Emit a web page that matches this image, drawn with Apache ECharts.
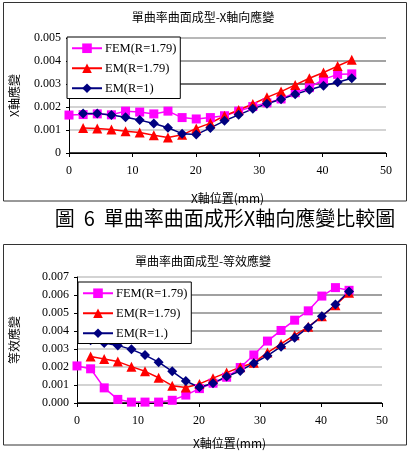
<!DOCTYPE html>
<html>
<head>
<meta charset="utf-8">
<script src="https://cdn.jsdelivr.net/npm/echarts@6/dist/echarts.min.js"></script>
<style>
  html, body { margin: 0; padding: 0; background: #fff; }
  #main { width: 412px; height: 456px; }
</style>
</head>
<body>
<div id="main"></div>
<script>
// x 位置 (mm)
const xPos = [0, 2.23, 4.46, 6.69, 8.92, 11.15, 13.38, 15.61, 17.84, 20.07, 22.3,
  24.53, 26.76, 28.99, 31.22, 33.45, 35.68, 37.91, 40.14, 42.37, 44.6]

// 圖上：X軸向應變
const femX = [0.00165, 0.00167, 0.00170, 0.00166, 0.00182, 0.00178, 0.00170, 0.00182, 0.00154, 0.00148, 0.00154,
  0.00162, 0.00182, 0.00202, 0.00218, 0.00235, 0.00262, 0.00284, 0.00320, 0.00342, 0.00344]
const em179X = [null, 0.00109, 0.00106, 0.00102, 0.00095, 0.00089, 0.00077, 0.00067, 0.00079, 0.00107, 0.00130,
  0.00162, 0.00187, 0.00213, 0.00242, 0.00267, 0.00296, 0.00325, 0.00350, 0.00378, 0.00405]
const em1X = [null, 0.00172, 0.00172, 0.00165, 0.00155, 0.00143, 0.00128, 0.00110, 0.00084, 0.00080, 0.00109,
  0.00140, 0.00166, 0.00192, 0.00214, 0.00234, 0.00255, 0.00275, 0.00292, 0.00308, 0.00325]

// 圖下：等效應變
const femEq = [0.00206, 0.00190, 0.00084, 0.00020, 0.00005, 0.00005, 0.00005, 0.00015, 0.00044, 0.00080, 0.00110,
  0.00143, 0.00197, 0.00267, 0.00344, 0.00403, 0.00460, 0.00512, 0.00594, 0.00641, 0.00626]
const em179Eq = [null, 0.00258, 0.00245, 0.00230, 0.00202, 0.00176, 0.00140, 0.00096, 0.00086, 0.00106, 0.00138,
  0.00169, 0.00199, 0.00224, 0.00280, 0.00328, 0.00377, 0.00423, 0.00482, 0.00543, 0.00613]
const em1Eq = [null, 0.00348, 0.00333, 0.00320, 0.00298, 0.00266, 0.00227, 0.00176, 0.00122, 0.00087, 0.00110,
  0.00147, 0.00178, 0.00221, 0.00263, 0.00313, 0.00362, 0.00420, 0.00482, 0.00547, 0.00620]

const xTicks = { min: 0, max: 50, interval: 10 }
const yTicks1 = { min: 0, max: 0.005, interval: 0.001 }
const yTicks2 = { min: 0, max: 0.007, interval: 0.001 }

const names1 = ['FEM(R=1.79)', 'EM(R=1.79)', 'EM(R=1)']
const names2 = ['FEM(R=1.79)', 'EM(R=1.79)', 'EM(R=1.)']

const serif = "'Liberation Serif', 'Noto Sans CJK TC', serif"
const cjk = "'Noto Sans CJK TC', 'Liberation Serif', sans-serif"

function pairs(vals) {
  const out = []
  vals.forEach((v, i) => { if (v !== null) out.push([xPos[i], v]) })
  return out
}

function line(name, vals, idx, symbol, color) {
  return {
    name: name,
    type: 'line',
    xAxisIndex: idx,
    yAxisIndex: idx,
    data: pairs(vals),
    symbol: symbol,
    symbolSize: symbol === 'rect' ? 9 : 10,
    color: color,
    lineStyle: { width: 1.5, color: color },
    itemStyle: { color: color },
    animation: false
  }
}

function xAxis(idx) {
  return {
    type: 'value', gridIndex: idx,
    min: xTicks.min, max: xTicks.max, interval: xTicks.interval,
    name: 'X軸位置(mm)', nameLocation: 'middle', nameGap: idx === 0 ? 39 : 34,
    nameTextStyle: { fontFamily: cjk, fontSize: 12, color: '#000' },
    axisLine: { lineStyle: { color: '#000', width: 1 } },
    axisTick: { show: true, length: 4, lineStyle: { color: '#000' } },
    axisLabel: { fontFamily: serif, fontSize: 12, color: '#000', margin: 12 },
    splitLine: { show: false }
  }
}

function yAxis(idx, t, label, gap, colors, fmt) {
  return {
    type: 'value', gridIndex: idx,
    min: t.min, max: t.max, interval: t.interval,
    name: label, nameLocation: 'middle', nameGap: gap, nameRotate: 90,
    nameTextStyle: { fontFamily: cjk, fontSize: 12, color: '#000' },
    axisLine: { show: true, lineStyle: { color: '#000', width: 1 } },
    axisTick: { show: true, length: 3, lineStyle: { color: '#000' } },
    axisLabel: { fontFamily: serif, fontSize: 12, color: '#000', margin: 8, formatter: fmt },
    splitLine: { show: true, lineStyle: { color: colors, width: 1.5 } }
  }
}

function legend(names, left, top) {
  return {
    data: names, orient: 'vertical', left: left, top: top,
    itemWidth: 30, itemHeight: 12, itemGap: 7.5,
    padding: [5, 4, 4, 4],
    backgroundColor: '#fff', borderColor: '#000', borderWidth: 1,
    textStyle: { fontFamily: serif, fontSize: 12.5, color: '#000', padding: [0, 0, 0, -2] },
    selectedMode: false
  }
}

const chart = echarts.init(document.getElementById('main'), null, { renderer: 'canvas' })
chart.setOption({
  backgroundColor: '#fff',
  animation: false,
  grid: [
    { left: 62, top: 38, width: 324, height: 115 },
    { left: 74, top: 277, width: 308, height: 126 }
  ],
  xAxis: [xAxis(0), xAxis(1)],
  yAxis: [
    yAxis(0, yTicks1, 'X軸應變', 49, ['#000', '#c4c4c4', '#c4c4c4', '#404040', '#858585', '#a0a0a0'],
      v => v === 0 ? '0' : v.toFixed(3)),
    yAxis(1, yTicks2, '等效應變', 57, ['#000', '#c4c4c4', '#c4c4c4', '#c4c4c4', '#8a8a8a', '#8a8a8a', '#808080', '#c4c4c4'],
      v => v.toFixed(3))
  ],
  legend: [legend(names1, 67, 37), legend(names2, 78, 282)],
  graphic: [
    { type: 'rect', shape: { x: 3.5, y: 2.5, width: 403, height: 198.5 }, style: { fill: null, stroke: '#333', lineWidth: 1 }, z: -1 },
    { type: 'rect', shape: { x: 3.5, y: 244.5, width: 403, height: 200.5 }, style: { fill: null, stroke: '#333', lineWidth: 1 }, z: -1 },
    { type: 'text', x: 203, y: 17, style: { text: '單曲率曲面成型-X軸向應變', font: '12px ' + cjk, fill: '#000', align: 'center', verticalAlign: 'middle' } },
    { type: 'text', x: 203, y: 261, style: { text: '單曲率曲面成型-等效應變', font: '12px ' + cjk, fill: '#000', align: 'center', verticalAlign: 'middle' } },
    { type: 'text', x: 225, y: 218, style: { text: '圖  6  單曲率曲面成形X軸向應變比較圖', font: '20px ' + cjk, fill: '#000', align: 'center', verticalAlign: 'middle' } }
  ],
  series: [
    line(names1[0], femX, 0, 'rect', '#ff00ff'),
    line(names1[1], em179X, 0, 'triangle', '#ff0000'),
    line(names1[2], em1X, 0, 'diamond', '#000080'),
    line(names2[0], femEq, 1, 'rect', '#ff00ff'),
    line(names2[1], em179Eq, 1, 'triangle', '#ff0000'),
    line(names2[2], em1Eq, 1, 'diamond', '#000080')
  ]
})
</script>
</body>
</html>
